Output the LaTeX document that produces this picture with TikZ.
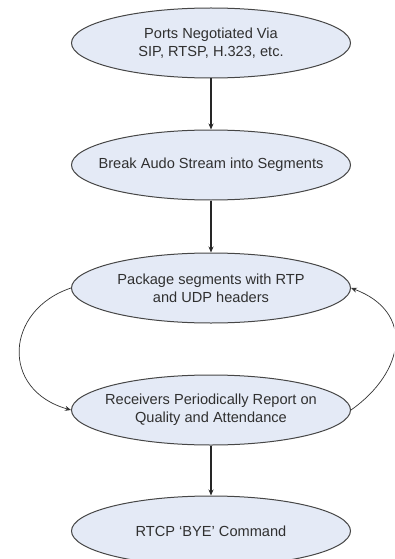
\documentclass[tikz,border=0pt]{standalone}
\usepackage{fontspec}
\setmainfont{Liberation Sans}
\usetikzlibrary{shapes.geometric,arrows.meta}

\begin{document}
\begin{tikzpicture}[x=1pt,y=-1pt,font=\fontsize{14.6}{18}\selectfont]
  \definecolor{ink}{RGB}{48,48,48}
  \definecolor{rim}{RGB}{70,70,70}
  \definecolor{pale}{RGB}{228,234,246}
  \tikzset{
    stage/.style={ellipse, draw=rim, fill=pale, line width=1pt, text=ink,
      align=center, minimum width=279pt, minimum height=70pt,
      inner xsep=-40pt, inner ysep=0pt},
    flow/.style={-{Stealth[length=6pt,width=5pt]}, line width=1.2pt, black!85},
    loop/.style={-{Stealth[length=6pt,width=5pt]}, line width=0.7pt, black!80}
  }
  \clip (0,0) rectangle (394,559);

  \node[stage] (ports) at (211,43) {Ports Negotiated Via\\SIP, RTSP, H.323, etc.};
  \node[stage] (split) at (211,165) {Break Audo Stream into Segments};
  \node[stage] (pack) at (211,288) {Package segments with RTP\\and UDP headers};
  \node[stage] (report) at (211,410) {Receivers Periodically Report on\\Quality and Attendance};
  \node[stage] (bye) at (211,531) {RTCP `BYE' Command};

  \draw[flow] (ports) -- (split);
  \draw[flow] (split) -- (pack);
  \draw[flow] (report) -- (bye);

  \draw[loop] (pack.west) .. controls (5,310) and (0,390) .. (report.west);
  \draw[loop] (report.east) .. controls (405,372) and (415,312) .. (pack.east);
\end{tikzpicture}
\end{document}
